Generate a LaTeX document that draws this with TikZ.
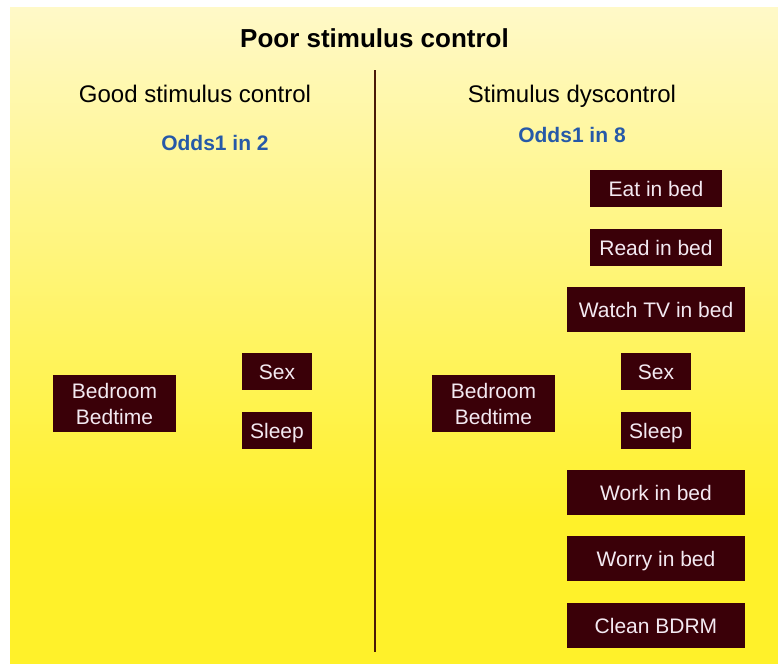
\documentclass[tikz,border=0pt]{standalone}
\usepackage{fontspec}
\setmainfont{Liberation Sans}
\definecolor{boxfill}{HTML}{3A0008}
\definecolor{boxtext}{HTML}{F3E9F1}
\definecolor{oddsblue}{HTML}{2659A8}
\definecolor{divline}{HTML}{4A1A08}
\definecolor{bgtop}{HTML}{FFF9C8}
\definecolor{bgbot}{HTML}{FFF12A}
\begin{document}
\begin{tikzpicture}[x=1pt,y=-1pt,
  box/.style={fill=boxfill,text=boxtext,inner sep=0pt,font=\fontsize{21}{26}\selectfont,
    text height=15pt,text depth=0pt},
  boxs/.style={box,minimum width=70pt,minimum height=37pt},
  boxm/.style={box,minimum width=132pt,minimum height=37pt},
  boxl/.style={box,minimum width=178pt,minimum height=45pt},
  boxbed/.style={box,minimum width=123pt,minimum height=57pt,align=center,text height=41pt,text depth=0pt},
  head/.style={anchor=base,font=\fontsize{24}{28}\selectfont},
  odds/.style={anchor=base,text=oddsblue,font=\bfseries\fontsize{21}{25}\selectfont},
]
\useasboundingbox (0,0) rectangle (778,664);
\shade[top color=bgtop,bottom color=bgbot] (10,7) rectangle (778,520);
\fill[bgbot] (10,519.5) rectangle (778,664);

\node[anchor=base,font=\bfseries\fontsize{26}{30}\selectfont] (title) at (374.5,47) {Poor stimulus control};
\node[head] (goodhead) at (195,102) {Good stimulus control};
\node[head] (dyshead) at (572,102) {Stimulus dyscontrol};
\node[odds] (odds2) at (215,150) {Odds1 in 2};
\node[odds] (odds8) at (572,142.5) {Odds1 in 8};

\coordinate (divtop) at (375,70);
\coordinate (divbot) at (375,652);
\draw[divline,line width=2.2pt] (divtop) -- (divbot);

% left side
\node[boxbed] (bedL) at (114.5,403.5) {Bedroom\\Bedtime};
\node[boxs] (sexL) at (277,371.5) {Sex};
\node[boxs] (sleepL) at (277,430.5) {Sleep};

% right side
\node[boxbed] (bedR) at (493.5,403.5) {Bedroom\\Bedtime};
\node[boxm] (eat) at (656,188.5) {Eat in bed};
\node[boxm] (read) at (656,247.5) {Read in bed};
\node[boxl] (watch) at (656,309.5) {Watch TV in bed};
\node[boxs] (sexR) at (656,371.5) {Sex};
\node[boxs] (sleepR) at (656,430.5) {Sleep};
\node[boxl] (work) at (656,492.5) {Work in bed};
\node[boxl] (worry) at (656,558.5) {Worry in bed};
\node[boxl] (clean) at (656,625.5) {Clean BDRM};
\end{tikzpicture}
\end{document}
